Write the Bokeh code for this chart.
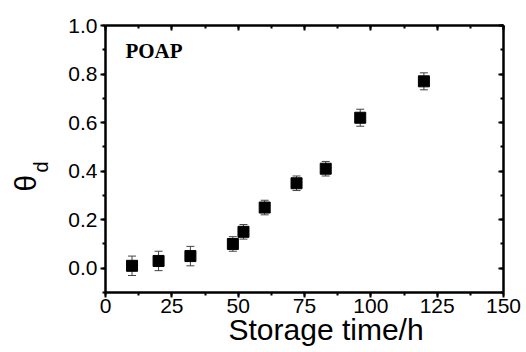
from bokeh.plotting import figure
from bokeh.models import (ColumnDataSource, Whisker, TeeHead, Label, LinearAxis,
                          SingleIntervalTicker, Range1d, CustomJSTickFormatter, Title)
from bokeh.embed import file_html
from bokeh.resources import INLINE

# data
time_h = [10, 20, 32, 48, 52, 60, 72, 83, 96, 120]
theta_d = [0.01, 0.03, 0.05, 0.10, 0.15, 0.25, 0.35, 0.41, 0.62, 0.77]
err = [0.04, 0.04, 0.04, 0.03, 0.03, 0.03, 0.03, 0.03, 0.035, 0.035]
x_label = "Storage time/h"
y_label_main = "θ"
y_label_sub = "d"
sample = "POAP"

src = ColumnDataSource(dict(
    x=time_h, y=theta_d,
    upper=[v + e for v, e in zip(theta_d, err)],
    lower=[v - e for v, e in zip(theta_d, err)],
))

p = figure(width=526, height=352, output_backend="svg", toolbar_location=None,
           x_range=Range1d(0, 150), y_range=Range1d(-0.1, 1.0),
           min_border_left=105, min_border_right=23, min_border_top=25,
           min_border_bottom=60)
p.grid.visible = False
p.outline_line_color = None
p.background_fill_color = "white"
p.border_fill_color = "white"

p.xaxis.ticker = SingleIntervalTicker(interval=25, num_minor_ticks=2)
p.yaxis.ticker = SingleIntervalTicker(interval=0.2, num_minor_ticks=2)

font = "Liberation Sans"
for ax in (p.xaxis[0], p.yaxis[0]):
    ax.axis_line_width = 2.5
    ax.axis_line_color = "black"
    ax.major_tick_line_width = 2
    ax.minor_tick_line_width = 2
    ax.major_tick_out = 5
    ax.major_tick_in = 0
    ax.minor_tick_out = 3
    ax.minor_tick_in = 0
    ax.major_label_text_font = font
    ax.major_label_text_font_size = "21px"
    ax.major_label_text_color = "black"
p.xaxis.major_label_standoff = 1
p.yaxis.major_label_standoff = 3
p.yaxis.formatter = CustomJSTickFormatter(code="return tick.toFixed(1);")

blank = CustomJSTickFormatter(code="return '';")
for loc, tk in (("above", SingleIntervalTicker(interval=25, num_minor_ticks=2)),
                ("right", SingleIntervalTicker(interval=0.2, num_minor_ticks=2))):
    ax = LinearAxis(ticker=tk, formatter=blank)
    ax.axis_line_width = 2.5
    ax.major_tick_line_width = 2
    ax.minor_tick_line_width = 2
    ax.major_tick_in = 5
    ax.major_tick_out = 0
    ax.minor_tick_in = 3
    ax.minor_tick_out = 0
    ax.major_label_standoff = 0
    ax.major_label_text_font_size = "1px"
    p.add_layout(ax, loc)

p.add_layout(Whisker(base="x", upper="upper", lower="lower", source=src,
                     line_color="#444444", line_width=1,
                     upper_head=TeeHead(size=8, line_color="#444444", line_width=1),
                     lower_head=TeeHead(size=8, line_color="#444444", line_width=1)))
p.scatter("x", "y", source=src, marker="square", size=11,
          fill_color="black", line_color="black")

p.add_layout(Label(x=7.5, y=0.893, text=sample, text_font="Liberation Serif",
                   text_font_style="bold", text_font_size="21px",
                   text_color="black",
                   text_baseline="alphabetic", text_align="left"))

# y label: theta with subscript d (subscript panel next to the axis)
p.add_layout(Title(text=y_label_sub, text_font=font, text_font_size="20px",
                   text_font_style="normal", text_color="black",
                   align="left", offset=120, standoff=27,
                   vertical_align="bottom"), "left")
p.add_layout(Title(text=y_label_main, text_font=font, text_font_size="30px",
                   text_font_style="normal", text_color="black",
                   align="left", offset=101, standoff=-54,
                   vertical_align="bottom"), "left")
# x label
p.add_layout(Title(text=x_label, text_font=font, text_font_size="30px",
                   text_font_style="normal", text_color="black",
                   align="left", offset=123, standoff=-6,
                   vertical_align="top"), "below")

open("out.html", "w").write(file_html(p, INLINE))
